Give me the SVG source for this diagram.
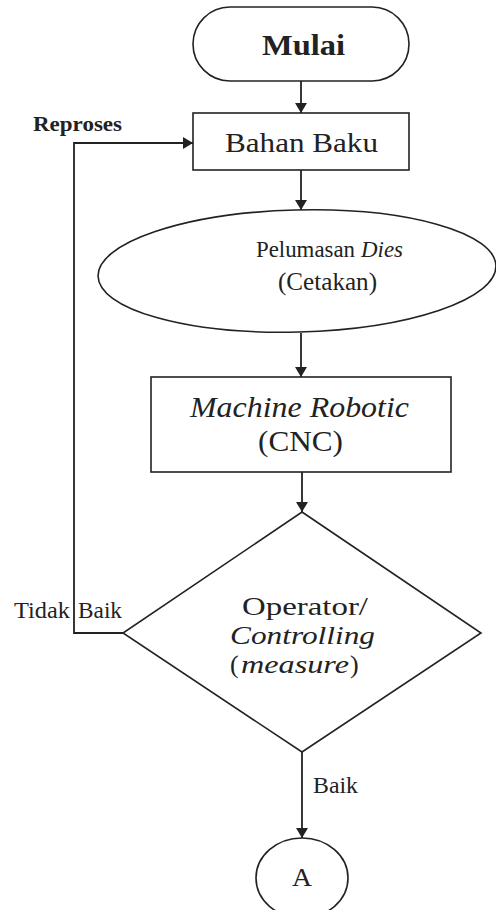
<svg xmlns="http://www.w3.org/2000/svg" width="496" height="910" viewBox="0 0 496 910">
<style>
.s{fill:#fff;stroke:#222;stroke-width:1.6}
.c{fill:none;stroke:#222;stroke-width:1.8}
.t{font-family:"Liberation Serif","Times New Roman",serif;fill:#222}
.b{font-weight:bold}
.i{font-style:italic}
</style>
<defs>
<marker id="ah" viewBox="0 0 10 12" refX="10" refY="6" markerWidth="10" markerHeight="12" markerUnits="userSpaceOnUse" orient="auto">
<path d="M0,0 L10,6 L0,12 Z" fill="#222"/>
</marker>
</defs>
<rect width="496" height="910" fill="#fff"/>
<g id="connectors">
<line class="c" x1="301" y1="81" x2="301" y2="113" marker-end="url(#ah)"/>
<line class="c" x1="301" y1="170" x2="301" y2="210" marker-end="url(#ah)"/>
<line class="c" x1="301" y1="333" x2="301" y2="377" marker-end="url(#ah)"/>
<line class="c" x1="302" y1="472" x2="302" y2="512" marker-end="url(#ah)"/>
<line class="c" x1="302" y1="752" x2="302" y2="838" marker-end="url(#ah)"/>
<polyline class="c" points="123,633 74,633 74,143 193,143" marker-end="url(#ah)"/>
<text class="t b" x="33" y="131" font-size="22" textLength="89" lengthAdjust="spacingAndGlyphs">Reproses</text>
<text class="t" x="14" y="618" font-size="24" textLength="56" lengthAdjust="spacingAndGlyphs">Tidak</text>
<text class="t" x="78" y="618" font-size="24" textLength="44" lengthAdjust="spacingAndGlyphs">Baik</text>
<text class="t" x="313" y="793" font-size="24" textLength="45" lengthAdjust="spacingAndGlyphs">Baik</text>
</g>
<g id="mulai">
<rect class="s" x="193" y="7" width="216" height="74" rx="37" ry="37"/>
<text class="t b" x="262" y="55" font-size="29" textLength="83" lengthAdjust="spacingAndGlyphs">Mulai</text>
</g>
<g id="bahan-baku">
<rect class="s" x="193" y="113" width="216" height="57"/>
<text class="t" x="225" y="152" font-size="28" textLength="153" lengthAdjust="spacingAndGlyphs">Bahan Baku</text>
</g>
<g id="pelumasan">
<ellipse class="s" cx="297" cy="271" rx="199" ry="61" transform="rotate(-1.5 297 271)"/>
<text class="t" x="256" y="257" font-size="24" textLength="99" lengthAdjust="spacingAndGlyphs">Pelumasan</text>
<text class="t i" x="361" y="257" font-size="24" textLength="42" lengthAdjust="spacingAndGlyphs">Dies</text>
<text class="t" x="278" y="290" font-size="25" textLength="99" lengthAdjust="spacingAndGlyphs">(Cetakan)</text>
</g>
<g id="machine">
<rect class="s" x="151" y="377" width="300" height="95"/>
<text class="t i" x="190" y="417" font-size="29" textLength="219" lengthAdjust="spacingAndGlyphs">Machine Robotic</text>
<text class="t" x="258" y="451" font-size="29" textLength="85" lengthAdjust="spacingAndGlyphs">(CNC)</text>
</g>
<g id="operator">
<polygon class="s" points="302,512 481,633 302,752 123,633"/>
<text class="t" x="242" y="615" font-size="26" textLength="126" lengthAdjust="spacingAndGlyphs">Operator/</text>
<text class="t i" x="230" y="644" font-size="26" textLength="145" lengthAdjust="spacingAndGlyphs">Controlling</text>
<text class="t" x="230" y="673" font-size="26">(</text>
<text class="t i" x="241" y="673" font-size="26" textLength="108" lengthAdjust="spacingAndGlyphs">measure</text>
<text class="t" x="350" y="673" font-size="26">)</text>
</g>
<g id="a">
<ellipse class="s" cx="302" cy="878" rx="46" ry="40"/>
<text class="t" x="292" y="886" font-size="25" textLength="20" lengthAdjust="spacingAndGlyphs">A</text>
</g>
</svg>
